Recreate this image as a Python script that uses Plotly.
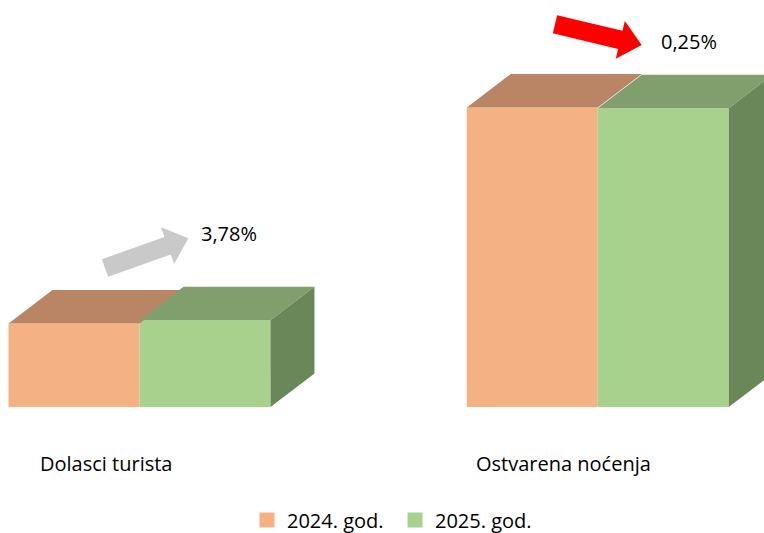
import plotly.graph_objects as go

# ---- data ----
categories = ["Dolasci turista", "Ostvarena noćenja"]
series_names = ["2024. god.", "2025. god."]
values_2024 = [83.5, 299.5]
values_2025 = [86.7, 298.8]
change_labels = ["3,78%", "0,25%"]

# ---- style ----
FONT = "Open Sans"
C_FRONT = ["#F4B183", "#A9D18E"]
C_TOP = ["#B98565", "#809F6C"]
C_SIDE = ["#8E6650", "#6A8759"]
W = 764
PLOT_H = 407
BAR_W = 0.2858
DX = 0.096      # depth in x data units
DY = 33.5       # depth in y data units
XR = [-0.3044, 1.3627]

def px(x):
    return x / W

def py(y):
    return 1 - y / PLOT_H

fig = go.Figure()

xs = list(range(len(categories)))
series = [values_2024, values_2025]
offsets = [-BAR_W, 0.0]

# front faces as bars
for s, (name, vals) in enumerate(zip(series_names, series)):
    fig.add_trace(go.Bar(
        x=xs, y=vals, name=name, width=BAR_W, offset=offsets[s],
        marker=dict(color=C_FRONT[s], line=dict(width=0)),
        hoverinfo="skip", showlegend=False,
    ))

# top and side faces
for i in xs:
    for s, vals in enumerate(series):
        x0 = i + offsets[s]
        x1 = x0 + BAR_W
        v = vals[i]
        fig.add_trace(go.Scatter(
            x=[x0, x1, x1 + DX, x0 + DX, x0],
            y=[v, v, v + DY, v + DY, v],
            fill="toself", fillcolor=C_TOP[s], mode="lines",
            line=dict(width=0, color=C_TOP[s]), showlegend=False, hoverinfo="skip",
        ))
        if s == 1:
            fig.add_trace(go.Scatter(
                x=[x1, x1 + DX, x1 + DX, x1, x1],
                y=[0, DY, v + DY, v, 0],
                fill="toself", fillcolor=C_SIDE[s], mode="lines",
                line=dict(width=0, color=C_SIDE[s]), showlegend=False, hoverinfo="skip",
            ))

# legend entries (square swatches)
for s, name in enumerate(series_names):
    fig.add_trace(go.Scatter(
        x=[None], y=[None], mode="markers", name=name,
        marker=dict(symbol="square", size=15, color=C_FRONT[s]),
        hoverinfo="skip",
    ))

# block arrows (decoration)
def arrow_path(tail, tip, w=9.3, h=19.5, L=22.0):
    import math
    ux, uy = tip[0] - tail[0], tip[1] - tail[1]
    d = math.hypot(ux, uy)
    ux, uy = ux / d, uy / d
    nx, ny = -uy, ux
    bx, by = tip[0] - ux * L, tip[1] - uy * L
    pts = [
        (tail[0] + nx * w, tail[1] + ny * w),
        (bx + nx * w, by + ny * w),
        (bx + nx * h, by + ny * h),
        tip,
        (bx - nx * h, by - ny * h),
        (bx - nx * w, by - ny * w),
        (tail[0] - nx * w, tail[1] - ny * w),
    ]
    return "M " + " L ".join(f"{px(x):.5f},{py(y):.5f}" for x, y in pts) + " Z"

shapes = [
    dict(type="path", xref="paper", yref="paper",
         path=arrow_path((105, 268), (188.3, 238.3)),
         fillcolor="#C9C9C9", line=dict(width=0)),
    dict(type="path", xref="paper", yref="paper",
         path=arrow_path((555, 24.2), (641.7, 45.0)),
         fillcolor="#FF0000", line=dict(width=0)),
]

annotations = []
for i, c in enumerate(categories):
    annotations.append(dict(
        x=i, xref="x", xshift=-34, y=py(463), yref="paper",
        text=c, showarrow=False, xanchor="center", yanchor="middle",
        font=dict(family=FONT, size=20, color="#000000"),
    ))
label_pos = [(229, 233), (689, 41)]
for (lx, ly), t in zip(label_pos, change_labels):
    annotations.append(dict(
        x=px(lx), xref="paper", y=py(ly), yref="paper",
        text=t, showarrow=False, xanchor="center", yanchor="middle",
        font=dict(family=FONT, size=20, color="#000000"),
    ))

fig.update_layout(
    width=764, height=533,
    margin=dict(l=0, r=0, t=0, b=533 - PLOT_H, pad=0, autoexpand=False),
    paper_bgcolor="white", plot_bgcolor="white",
    barmode="overlay",
    xaxis=dict(range=XR, visible=False, fixedrange=True),
    yaxis=dict(range=[0, PLOT_H], visible=False, fixedrange=True),
    showlegend=True,
    legend=dict(orientation="h", x=px(395), xanchor="center", y=py(520), yanchor="middle",
                entrywidth=103, entrywidthmode="pixels",
                font=dict(family=FONT, size=20, color="#000000"),
                traceorder="normal", itemclick=False, itemdoubleclick=False),
    shapes=shapes,
    annotations=annotations,
    hovermode=False,
)

fig.write_html("out.html", config={"displayModeBar": False},
               post_script="document.body.style.margin='0';document.body.style.overflow='hidden';")
